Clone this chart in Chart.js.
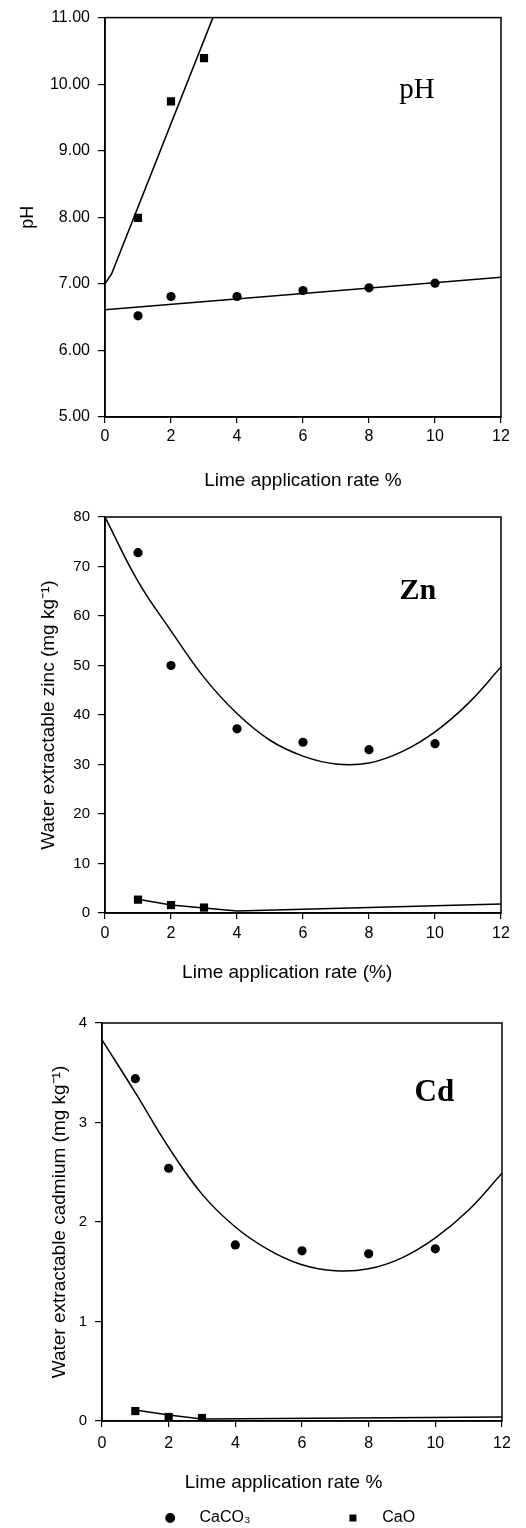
<!DOCTYPE html>
<html>
<head>
<meta charset="utf-8">
<script src="https://cdn.jsdelivr.net/npm/chart.js@4.4.1/dist/chart.umd.min.js"></script>
<style>
  html, body { margin: 0; padding: 0; background: #fff; overflow: hidden; }
  .panel { position: absolute; left: 0; width: 526px; }
</style>
</head>
<body>
<div class="panel" style="top:0;height:500px"><canvas id="ph-canvas"></canvas></div>
<div class="panel" style="top:500px;height:500px"><canvas id="zn-canvas"></canvas></div>
<div class="panel" style="top:1000px;height:536px"><canvas id="cd-canvas"></canvas></div>
<script>
// lime application rates (%)
const rateCaCO3 = [1, 2, 4, 6, 8, 10];
const rateCaO = [1, 2, 3];
const xTicks = [0, 2, 4, 6, 8, 10, 12];

// pH
const phTicks = [5, 6, 7, 8, 9, 10, 11];
const phCaCO3 = [6.52, 6.81, 6.81, 6.90, 6.94, 7.01];
const phCaO = [7.99, 9.74, 10.39];
const phFitCaCO3X = [0, 12];
const phFitCaCO3Y = [6.61, 7.10];
const phFitCaOX = [0, 0.2, 3.27];
const phFitCaOY = [7.00, 7.15, 11.00];

// water extractable zinc (mg/kg)
const znTicks = [0, 10, 20, 30, 40, 50, 60, 70, 80];
const znCaCO3 = [72.8, 50.0, 37.2, 34.5, 33.0, 34.2];
const znCaO = [2.7, 1.6, 1.1];
const fitX = [0, 1, 2, 3, 4, 5, 6, 7, 8, 9, 10, 11, 12];
const znFitCaCO3 = [80, 67, 57, 47.6, 40.3, 34.9, 31.7, 30.1, 30.3, 32.6, 36.6, 42.3, 49.7];
const znFitCaOX = [1, 2, 3, 4, 12];
const znFitCaOY = [2.8, 1.6, 1.0, 0.4, 1.8];

// water extractable cadmium (mg/kg)
const cdTicks = [0, 1, 2, 3, 4];
const cdCaCO3 = [3.44, 2.54, 1.77, 1.71, 1.68, 1.73];
const cdCaO = [0.10, 0.04, 0.03];
const cdFitCaCO3 = [3.83, 3.30, 2.75, 2.28, 1.95, 1.72, 1.57, 1.51, 1.53, 1.64, 1.84, 2.12, 2.49];
const cdFitCaOX = [1, 2, 3, 12];
const cdFitCaOY = [0.11, 0.06, 0.02, 0.04];

Chart.defaults.font.family = "'Liberation Sans', Arial, sans-serif";
Chart.defaults.color = '#000';

function pts(xs, ys) {
    return xs.map((x, i) => ({x: x, y: ys[i]}));
}

// smooth = true for the curved regression lines, false for straight segments
function fitLine(xs, ys, smooth) {
    return { label: '', data: pts(xs, ys), showLine: true, pointRadius: 0, borderColor: '#000',
             borderWidth: 1.5, tension: smooth ? 0.4 : 0, fill: false };
}

function marks(label, xs, ys, style) {
    return { label: label, data: pts(xs, ys), pointStyle: style, pointRadius: style === 'rect' ? 5.8 : 4.6,
             backgroundColor: '#000', borderColor: '#000', borderWidth: 0 };
}

// box round the plot area
const frame = {
    id: 'frame',
    afterDraw(chart) {
        const a = chart.chartArea;
        const ctx = chart.ctx;
        ctx.save();
        ctx.strokeStyle = '#000';
        ctx.lineWidth = 1.5;
        ctx.strokeRect(a.left, a.top, a.right - a.left, a.bottom - a.top);
        ctx.restore();
    }
};

// big element name inside the plot
const panelLabel = {
    id: 'panelLabel',
    afterDatasetsDraw(chart, args, opts) {
        const ctx = chart.ctx;
        ctx.save();
        ctx.font = opts.font;
        ctx.fillStyle = '#000';
        ctx.textAlign = 'center';
        ctx.textBaseline = 'alphabetic';
        ctx.fillText(opts.text, chart.scales.x.getPixelForValue(opts.x), chart.scales.y.getPixelForValue(opts.y));
        ctx.restore();
    }
};

function buildChart(id, datasets, p) {
    return new Chart(document.getElementById(id).getContext('2d'), {
        type: 'scatter',
        data: { datasets: datasets },
        plugins: [frame, panelLabel],
        options: {
            animation: false,
            responsive: true,
            maintainAspectRatio: false,
            layout: { padding: { top: p.top, right: 526 - p.right, left: 0, bottom: 0 } },
            plugins: {
                tooltip: { enabled: false },
                legend: p.legend || { display: false },
                panelLabel: p.label
            },
            scales: {
                x: {
                    type: 'linear', min: 0, max: 12,
                    afterBuildTicks: s => { s.ticks = xTicks.map(v => ({value: v})); },
                    ticks: { font: { size: 16 }, padding: p.xTickPad },
                    grid: { drawOnChartArea: false, tickLength: 6, color: '#000', lineWidth: 1.2 },
                    border: { color: '#000', width: 1.5 },
                    title: { display: true, text: p.xTitle, font: { size: 19 }, padding: { top: 0, bottom: p.xTitlePad } },
                    afterFit: s => { s.height = p.xHeight; }
                },
                y: {
                    type: 'linear', min: p.yTicks[0], max: p.yTicks[p.yTicks.length - 1],
                    afterBuildTicks: s => { s.ticks = p.yTicks.map(v => ({value: v})); },
                    ticks: { font: { size: p.yFont }, padding: 8, callback: p.yFmt },
                    grid: { drawOnChartArea: false, tickLength: 7, color: '#000', lineWidth: 1.2 },
                    border: { color: '#000', width: 1.5 },
                    title: { display: true, text: p.yTitle, font: { size: p.yTitleFont }, padding: { top: p.yTitlePad, bottom: 0 } },
                    afterFit: s => { s.width = p.left; }
                }
            }
        }
    });
}

buildChart('ph-canvas', [
    fitLine(phFitCaCO3X, phFitCaCO3Y, false),
    fitLine(phFitCaOX, phFitCaOY, false),
    marks('CaCO₃', rateCaCO3, phCaCO3, 'circle'),
    marks('CaO', rateCaO, phCaO, 'rect')
], {
    top: 16, left: 105, right: 501, xHeight: 83, xTickPad: 4, xTitlePad: 8,
    xTitle: 'Lime application rate %',
    yTicks: phTicks, yFont: 16, yFmt: v => v.toFixed(2),
    yTitle: 'pH', yTitleFont: 18, yTitlePad: 17,
    label: { text: 'pH', x: 9.45, y: 9.79, font: "29px 'Liberation Serif'" }
});

buildChart('zn-canvas', [
    fitLine(fitX, znFitCaCO3, true),
    fitLine(znFitCaOX, znFitCaOY, false),
    marks('CaCO₃', rateCaCO3, znCaCO3, 'circle'),
    marks('CaO', rateCaO, znCaO, 'rect')
], {
    top: 16, left: 105, right: 501, xHeight: 87, xTickPad: 5, xTitlePad: 16,
    xTitle: 'Lime application rate (%)      ',
    yTicks: znTicks, yFont: 15, yFmt: v => String(v),
    yTitle: 'Water extractable zinc (mg kg⁻¹)', yTitleFont: 19, yTitlePad: 37,
    label: { text: 'Zn', x: 9.48, y: 63.5, font: "bold 30px 'Liberation Serif'" }
});

buildChart('cd-canvas', [
    fitLine(fitX, cdFitCaCO3, true),
    fitLine(cdFitCaOX, cdFitCaOY, false),
    marks('CaCO₃', rateCaCO3, cdCaCO3, 'circle'),
    marks('CaO', rateCaO, cdCaO, 'rect')
], {
    top: 23, left: 102, right: 502, xHeight: 79, xTickPad: 7, xTitlePad: 6,
    xTitle: 'Lime application rate %       ',
    yTicks: cdTicks, yFont: 15, yFmt: v => String(v),
    yTitle: 'Water extractable cadmium (mg kg⁻¹)', yTitleFont: 19, yTitlePad: 48,
    label: { text: 'Cd', x: 9.97, y: 3.22, font: "bold 31px 'Liberation Serif'" },
    legend: {
        display: true, position: 'bottom', fullSize: false,
        labels: {
            usePointStyle: true, boxHeight: 7, padding: 10, font: { size: 16 },
            generateLabels: chart => {
                const items = Chart.defaults.plugins.legend.labels.generateLabels(chart).filter(it => it.text !== '');
                // spaces stand in for the wide gaps of the printed key
                items[0].text = '   ' + items[0].text + ' '.repeat(19);
                items[1].text = '   ' + items[1].text + ' '.repeat(6);
                return items;
            }
        }
    }
});
</script>
</body>
</html>
